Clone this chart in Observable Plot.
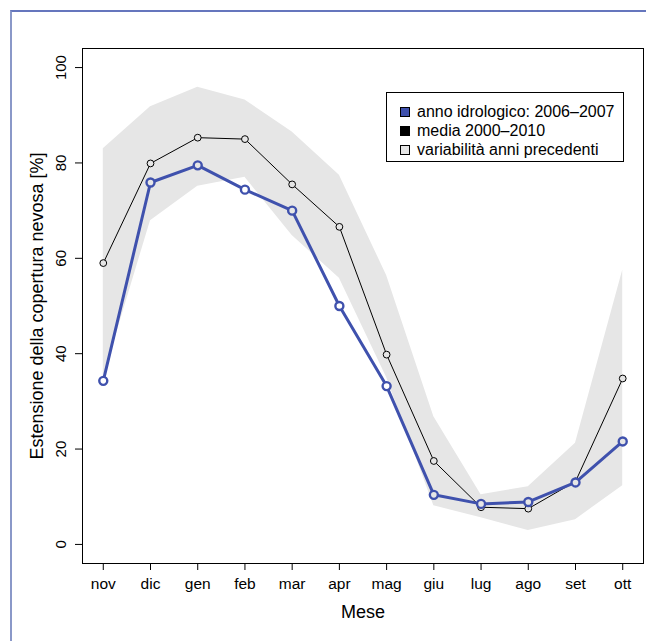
<!DOCTYPE html>
<html>
<head>
<meta charset="utf-8">
<script src="https://cdn.jsdelivr.net/npm/d3@7"></script>
<script src="https://cdn.jsdelivr.net/npm/@observablehq/plot@0.6"></script>
<style>
  html, body { margin: 0; padding: 0; background: #fff; }
  #wrap { position: relative; width: 646px; height: 643px; overflow: hidden; font-family: "Liberation Sans", Arial, Helvetica, sans-serif; }
  #frame { position: absolute; left: 10px; top: 10px; width: 700px; height: 631px; border-top: 2px solid #6576bd; border-left: 2px solid #8a98c8; box-sizing: border-box; }
  #legend { position: absolute; left: 386px; top: 92px; width: 238px; height: 70px; border: 1px solid #000; background: #fff; box-sizing: border-box; padding-top: 9px; }
  .row { display: flex; align-items: center; height: 19px; font-size: 16px; color: #000; white-space: nowrap; }
  .sw { width: 8px; height: 8px; border: 1px solid #000; margin-left: 13px; margin-right: 7px; flex: none; }
  svg { position: absolute; left: 0; top: 0; }
</style>
</head>
<body>
<div id="wrap">
  <div id="frame"></div>
  <div id="chart"></div>
  <div id="legend"></div>
</div>
<script>
const months = ["nov","dic","gen","feb","mar","apr","mag","giu","lug","ago","set","ott"];
const anno   = [34.3, 75.9, 79.5, 74.4, 70.0, 50.0, 33.2, 10.4, 8.5, 8.9, 13.0, 21.6];
const media  = [59.0, 79.9, 85.3, 85.0, 75.5, 66.6, 39.8, 17.5, 7.8, 7.5, 13.2, 34.8];
const varMax = [83.0, 91.8, 95.9, 93.2, 86.5, 77.4, 56.4, 26.8, 10.4, 12.1, 21.2, 57.5];
const varMin = [35.0, 67.9, 75.1, 77.0, 64.8, 55.8, 35.0, 8.1, 5.6, 2.9, 5.2, 12.3];
const yTicks = [0, 20, 40, 60, 80, 100];
const legendLabels = ["anno idrologico: 2006\u20132007", "media 2000\u20132010", "variabilit\u00e0 anni precedenti"];
const legendColors = ["#3f51ad", "#000000", "#e6e6e6"];

const BLUE = "#3f51ad", GREY = "#e6e6e6";
const data = months.map((m, i) => ({
  i: i + 1, m, anno: anno[i], media: media[i], lo: varMin[i], hi: varMax[i]
}));
const bg = (v, d) => (v >= d.lo && v <= d.hi) ? GREY : "white";

const font = "Liberation Sans, Arial, Helvetica, sans-serif";
const chart = Plot.plot({
  width: 646, height: 643,
  marginLeft: 82, marginRight: 3, marginTop: 48, marginBottom: 80,
  style: { fontFamily: font, fontSize: "15.5px", background: "transparent", color: "#000" },
  x: { type: "linear", domain: [0.56, 12.44] },
  y: { domain: [-4, 104] },
  marks: [
    Plot.areaY(data, { x: "i", y1: "lo", y2: "hi", fill: GREY }),
    Plot.line(data, { x: "i", y: "media", stroke: "#000", strokeWidth: 1 }),
    Plot.dot(data, { x: "i", y: "media", r: 3.4, stroke: "#000", strokeWidth: 1, fill: d => bg(d.media, d) }),
    Plot.line(data, { x: "i", y: "anno", stroke: BLUE, strokeWidth: 3 }),
    Plot.dot(data, { x: "i", y: "anno", r: 4, stroke: BLUE, strokeWidth: 2.4, fill: d => bg(d.anno, d) }),
    Plot.frame({ stroke: "#000", strokeWidth: 1 }),
    Plot.axisX({ ticks: d3.range(1, 13), tickFormat: i => months[i - 1], tickSize: 7, tickPadding: 7, label: null, fontSize: 15.5 }),
    Plot.axisY({ ticks: yTicks, tickSize: 7, tickFormat: () => "", label: null }),
    Plot.text(yTicks, { y: d => d, text: d => String(d), frameAnchor: "left", dx: -21, rotate: -90, textAnchor: "middle", fontSize: 15 }),
    Plot.text(["Estensione della copertura nevosa [%]"], { frameAnchor: "left", dx: -45, rotate: -90, textAnchor: "middle", fontSize: 18 }),
    Plot.text(["Mese"], { frameAnchor: "bottom", dy: 54, textAnchor: "middle", fontSize: 18 })
  ]
});
document.getElementById("chart").appendChild(chart);

const leg = document.getElementById("legend");
legendLabels.forEach((lab, k) => {
  const row = document.createElement("div");
  row.className = "row";
  const sw = document.createElement("div");
  sw.className = "sw";
  sw.style.background = legendColors[k];
  const t = document.createElement("span");
  t.textContent = lab;
  row.appendChild(sw); row.appendChild(t);
  leg.appendChild(row);
});
</script>
</body>
</html>
